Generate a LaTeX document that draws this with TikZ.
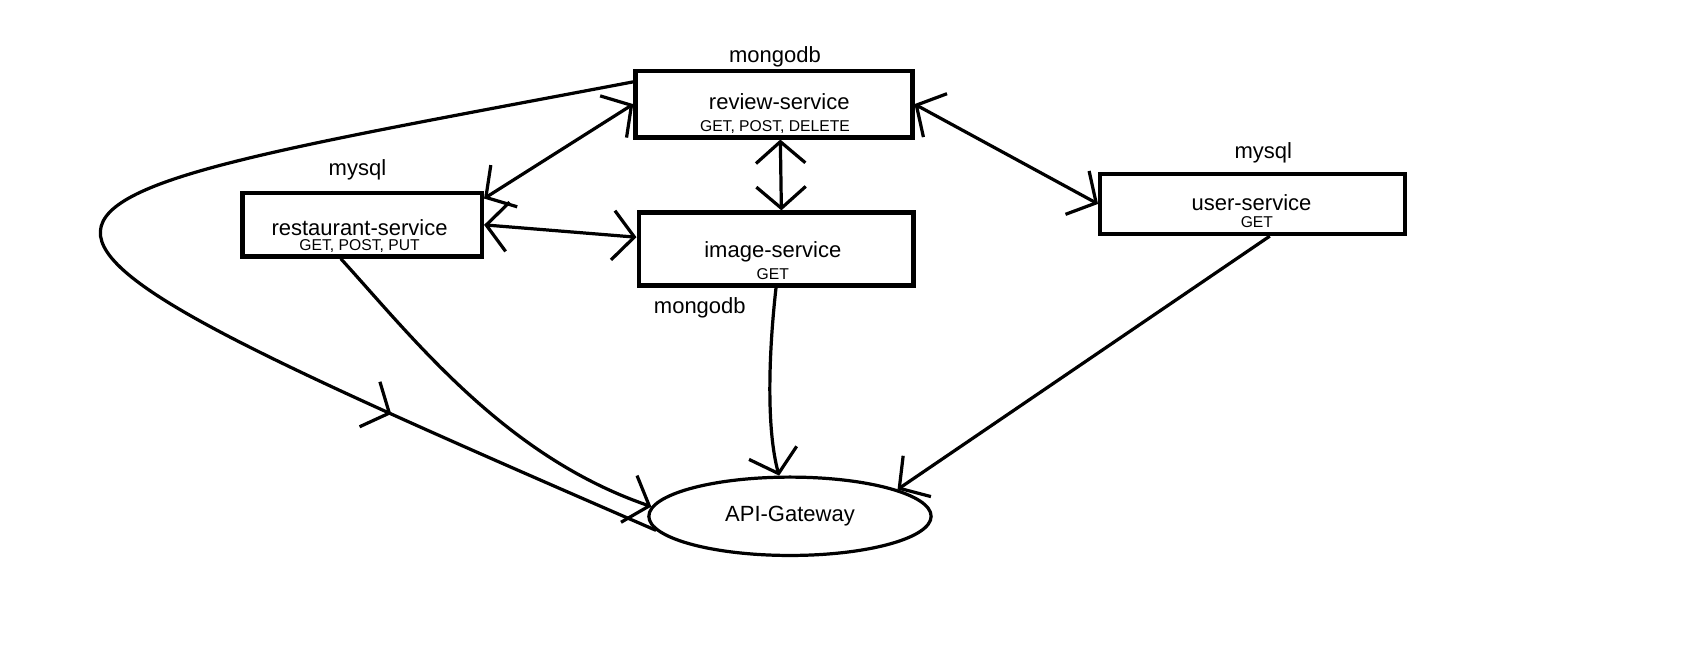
\documentclass[tikz,border=0pt]{standalone}
\usepackage{fontspec}
\setmainfont{Liberation Sans}
\usepackage{tikz}
\usetikzlibrary{arrows.meta,shapes.geometric,decorations.markings}

\begin{document}
\begin{tikzpicture}[x=1pt,y=-1pt,
    >={Straight Barb[length=20pt,width=46pt]},
    service/.style={draw, rectangle, line width=4pt, inner sep=0pt},
    svcname/.style={font=\fontsize{20.5}{24}\selectfont},
    verbs/.style={font=\fontsize{14.6}{16}\selectfont},
    wire/.style={line width=3pt}]
  \useasboundingbox (0,0) rectangle (1568,623.3);

  \node[service, minimum width=258pt, minimum height=62pt] (review) at (721,97) {};
  \node[svcname] (reviewdb) at (722,53) {mongodb};
  \node[svcname] (reviewname) at (726,95) {review-service};
  \node[verbs] (reviewverbs) at (722,118) {GET, POST, DELETE};

  \node[service, minimum width=223pt, minimum height=59pt] (restaurant) at (337.5,209.5) {};
  \node[svcname] (restaurantdb) at (333,158) {mysql};
  \node[svcname] (restaurantname) at (335,212) {restaurant-service};
  \node[verbs] (restaurantverbs) at (335,229) {GET, POST, PUT};

  \node[service, minimum width=256pt, minimum height=68pt] (image) at (723,232) {};
  \node[svcname] (imagename) at (720,235) {image-service};
  \node[verbs] (imageverbs) at (720,255) {GET};
  \node[svcname] (imagedb) at (652,287) {mongodb};

  \node[service, minimum width=284pt, minimum height=56pt] (user) at (1167,190) {};
  \node[svcname] (userdb) at (1177,142) {mysql};
  \node[svcname] (username) at (1166,189) {user-service};
  \node[verbs] (userverbs) at (1171,207) {GET};

  \node[draw, ellipse, line width=3pt, inner sep=0pt, minimum width=263pt, minimum height=73pt, svcname] (gateway) at (736,481) {API-Gateway};

  % between services
  \draw[wire, <->] (review.west) -- ([yshift=-7pt]restaurant.north east);
  \draw[wire, <->] (restaurant.east) -- ([yshift=11pt]image.west);
  \draw[wire, <->] ([xshift=6pt]review.south) -- ([xshift=5pt]image.north);
  \draw[wire, <->] (review.east) -- (user.west);

  % into the gateway
  \draw[wire, postaction={decorate}, decoration={markings, mark=at position 0.76 with {\arrow{>}}}]
    (review.171) .. controls (-52,198) and (-99,186) .. (gateway.186);
  \draw[wire, ->] ([xshift=-20pt]restaurant.south) .. controls (385,315) and (470,425) .. (gateway.176);
  \draw[wire, ->] (image.south) .. controls (716,330) and (714,400) .. (gateway.105);
  \draw[wire, ->] ([xshift=16pt]user.south) -- (gateway.14);
\end{tikzpicture}
\end{document}
